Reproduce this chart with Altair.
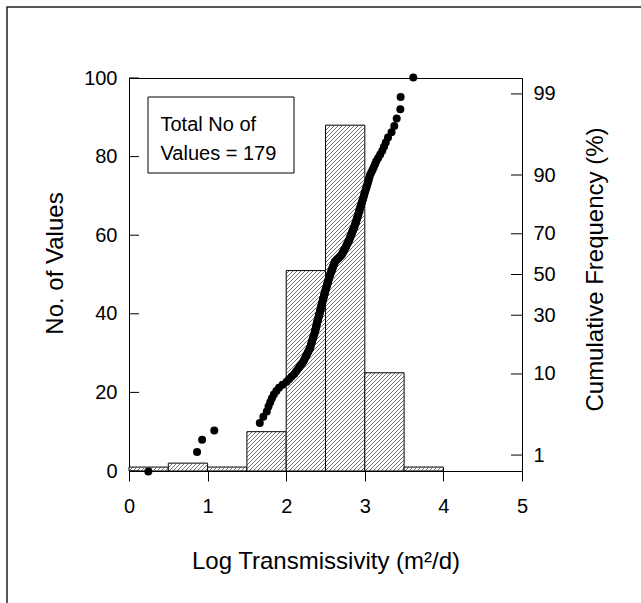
import math
from statistics import NormalDist
import altair as alt
import pandas as pd

# ---------------- data ----------------
bin_start = [0.0, 0.5, 1.0, 1.5, 2.0, 2.5, 3.0, 3.5]
bin_width = 0.5
counts = [1, 2, 1, 10, 51, 88, 25, 1]

# sorted log transmissivity values
log_t = [
    0.246, 0.866, 0.930, 1.085, 1.664, 1.709, 1.753, 1.775, 1.797, 1.818,
    1.843, 1.875, 1.908, 1.953, 2.006, 2.038, 2.070, 2.102, 2.126, 2.147,
    2.167, 2.188, 2.208, 2.224, 2.236, 2.248, 2.259, 2.271, 2.283, 2.295,
    2.305, 2.311, 2.317, 2.322, 2.328, 2.334, 2.340, 2.346, 2.352, 2.358,
    2.364, 2.368, 2.373, 2.377, 2.381, 2.385, 2.389, 2.393, 2.397, 2.402,
    2.406, 2.410, 2.414, 2.418, 2.423, 2.427, 2.431, 2.434, 2.438, 2.442,
    2.445, 2.449, 2.453, 2.456, 2.460, 2.464, 2.468, 2.471, 2.475, 2.479,
    2.482, 2.486, 2.490, 2.493, 2.498, 2.502, 2.506, 2.510, 2.514, 2.518,
    2.522, 2.526, 2.530, 2.534, 2.538, 2.542, 2.546, 2.550, 2.555, 2.559,
    2.564, 2.569, 2.575, 2.580, 2.585, 2.590, 2.595, 2.601, 2.606, 2.611,
    2.616, 2.622, 2.636, 2.650, 2.664, 2.678, 2.692, 2.706, 2.713, 2.721,
    2.728, 2.736, 2.743, 2.750, 2.758, 2.765, 2.773, 2.780, 2.788, 2.794,
    2.801, 2.807, 2.813, 2.819, 2.826, 2.832, 2.838, 2.844, 2.851, 2.857,
    2.863, 2.869, 2.876, 2.881, 2.887, 2.892, 2.898, 2.903, 2.909, 2.914,
    2.920, 2.925, 2.931, 2.936, 2.942, 2.949, 2.955, 2.962, 2.968, 2.975,
    2.981, 2.988, 2.994, 3.001, 3.009, 3.017, 3.025, 3.033, 3.042, 3.050,
    3.058, 3.066, 3.082, 3.098, 3.114, 3.130, 3.146, 3.170, 3.196, 3.222,
    3.244, 3.267, 3.295, 3.340, 3.375, 3.406, 3.452, 3.456, 3.617,
]

x_ticks = [0, 1, 2, 3, 4, 5]
left_ticks = [0, 20, 40, 60, 80, 100]
right_pct = [1, 10, 30, 50, 70, 90, 99]
box_lines = ["Total No of", "Values = 179"]

# ---------------- layout ----------------
W, H = 393, 393
XDOM = [0, 5]
YDOM = [0, 100]
ZLIM = 2.5316
FONT = "Liberation Sans"

nd = NormalDist()
n = len(log_t)
dots = pd.DataFrame({"xv": sorted(log_t)})
dots["rank"] = range(1, n + 1)
dots["zv"] = [nd.inv_cdf(r / (n + 1)) for r in dots["rank"]]

zvals = [nd.inv_cdf(p / 100) for p in right_pct]
expr = ""
for zv, p in zip(zvals, right_pct):
    expr += f"abs(datum.value - ({zv:.6f})) < 0.01 ? '{p}' : "
expr += "''"

bars = pd.DataFrame({
    "xv": bin_start,
    "xv2": [b + bin_width for b in bin_start],
    "yv": counts,
})

# diagonal hatching inside each bar
px_x = W / (XDOM[1] - XDOM[0])
px_y = H / (YDOM[1] - YDOM[0])
s = 4.0
rows = []
for b0, c in zip(bin_start, counts):
    X0 = b0 * px_x
    X1 = (b0 + bin_width) * px_x
    h = c * px_y
    k0 = math.floor((X0 - h) / s)
    k1 = math.ceil(X1 / s)
    for k in range(k0, k1 + 1):
        off = k * s
        xa = max(X0, off)
        xb = min(X1, off + h)
        if xb - xa > 0.3:
            rows.append({"xv": xa / px_x, "xv2": xb / px_x,
                         "yv": (xa - off) / px_y, "yv2": (xb - off) / px_y})
hatch = pd.DataFrame(rows)

xs = alt.Scale(domain=XDOM, nice=False, zero=False)
ys = alt.Scale(domain=YDOM, nice=False, zero=False)
zs = alt.Scale(domain=[-ZLIM, ZLIM], nice=False, zero=False)

AX = alt.Axis(values=x_ticks, format="d", title="Log Transmissivity (m²/d)",
              tickSize=10, labelPadding=15, titlePadding=33, grid=False,
              labelFlush=False)
AY = alt.Axis(values=left_ticks, ticks=False, labelPadding=12, title="No. of Values",
              titlePadding=16, titleY=185, grid=False, labelFlush=False)
AZ = alt.Axis(orient="right", values=zvals, labelExpr=expr, ticks=False, labelPadding=11,
              title="Cumulative Frequency (%)", titleAngle=270, titleBaseline="top",
              titlePadding=28, titleY=191, grid=False, labelFlush=False)

bar_layer = alt.Chart(bars).mark_rect(fill="white", stroke="black", strokeWidth=1).encode(
    x=alt.X("xv:Q", scale=xs, axis=AX),
    x2="xv2:Q",
    y=alt.Y("yv:Q", scale=ys, axis=AY),
    y2=alt.datum(0),
)

hatch_layer = alt.Chart(hatch).mark_rule(color="#333", strokeWidth=0.7).encode(
    x=alt.X("xv:Q", scale=xs, axis=AX),
    x2="xv2:Q",
    y=alt.Y("yv:Q", scale=ys, axis=AY),
    y2="yv2:Q",
)

left_tick_layer = alt.Chart(pd.DataFrame({"yv": left_ticks})).mark_rule(
    color="black", strokeWidth=1).encode(
    y=alt.Y("yv:Q", scale=ys, axis=AY),
    x=alt.value(0), x2=alt.value(10),
)

one = pd.DataFrame({"a": [0]})
frame = alt.Chart(one).mark_rect(fillOpacity=0, stroke="#222", strokeWidth=1.5).encode(
    x=alt.value(-122), x2=alt.value(600), y=alt.value(-71), y2=alt.value(600))

box = alt.Chart(one).mark_rect(fill="white", stroke="black", strokeWidth=1).encode(
    x=alt.value(19), x2=alt.value(165), y=alt.value(19), y2=alt.value(95))

txt1 = alt.Chart(one).mark_text(align="left", baseline="alphabetic", font=FONT,
                                fontSize=20, color="black").encode(
    x=alt.value(31.5), y=alt.value(52.5), text=alt.value(box_lines[0]))
txt2 = alt.Chart(one).mark_text(align="left", baseline="alphabetic", font=FONT,
                                fontSize=20, color="black").encode(
    x=alt.value(31.5), y=alt.value(82), text=alt.value(box_lines[1]))

left_group = alt.layer(frame, bar_layer, hatch_layer, left_tick_layer, box, txt1, txt2)

dot_layer = alt.Chart(dots).mark_circle(size=64, color="black", opacity=1).encode(
    x=alt.X("xv:Q", scale=xs, axis=AX),
    y=alt.Y("zv:Q", scale=zs, axis=AZ),
)

right_tick_layer = alt.Chart(pd.DataFrame({"zv": zvals})).mark_rule(
    color="black", strokeWidth=1).encode(
    y=alt.Y("zv:Q", scale=zs, axis=AZ),
    x=alt.value(W - 11), x2=alt.value(W),
)

right_group = alt.layer(right_tick_layer, dot_layer)

chart = alt.layer(left_group, right_group).resolve_scale(y="independent").properties(
    width=W, height=H,
    autosize=alt.AutoSizeParams(type="none"),
    padding={"left": 129, "top": 78, "right": 119, "bottom": 132},
    background="white",
).configure_view(stroke="black", strokeWidth=1).configure_axis(
    labelFont=FONT, titleFont=FONT, labelFontSize=20, titleFontSize=24,
    titleFontWeight="normal", labelColor="black", titleColor="black",
    domainColor="black", tickColor="black", domainWidth=1, tickWidth=1,
)

chart.save("out.html", embed_options={"renderer": "svg", "actions": False})
